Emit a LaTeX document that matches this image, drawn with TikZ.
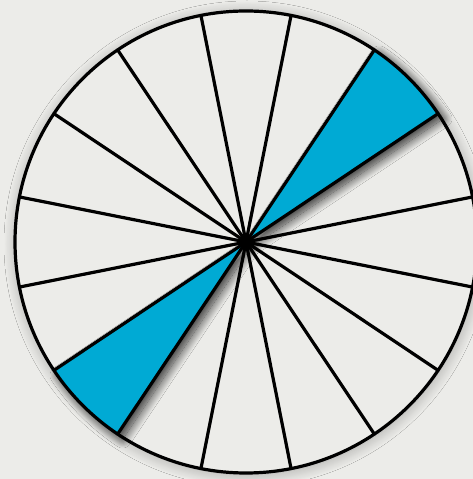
\documentclass[tikz,border=0pt]{standalone}
\usetikzlibrary{shadows.blur,calc}
\definecolor{bgc}{RGB}{236,236,233}
\definecolor{sectorblue}{RGB}{0,170,212}
\tikzset{
  spoke/.style={line width=3.2pt, line cap=round},
  rim/.style={line width=3.2pt},
  bluesector/.style={fill=sectorblue, blur shadow={shadow xshift=5pt, shadow yshift=-5pt, shadow blur steps=20, shadow blur radius=9pt, shadow opacity=80}},
}
\begin{document}
\begin{tikzpicture}[x=1pt,y=1pt]
  \fill[bgc] (0,0) rectangle (473,479);
  \useasboundingbox (0,0) rectangle (473,479);
  \clip (0,0) rectangle (473,479);
  \coordinate (c) at (246,237);
  % soft shadow of the disc
  \fill[bgc, blur shadow={shadow xshift=1pt, shadow yshift=-2pt, shadow blur steps=20, shadow blur radius=12pt, shadow opacity=30}] (c) circle[radius=231];
  % blue sectors
  \fill[bluesector] (c) -- ++(33.75:231) arc[start angle=33.75, end angle=56.25, radius=231] -- cycle;
  \fill[bluesector] (c) -- ++(213.75:231) arc[start angle=213.75, end angle=236.25, radius=231] -- cycle;
  % spokes
  \foreach \k in {0,...,7} {
    \pgfmathsetmacro{\a}{11.25+22.5*\k}
    \draw[spoke] ($(c)+(\a:231)$) -- ($(c)+(\a+180:231)$);
  }
  \fill (c) circle[radius=3.5];
  \draw[rim] (c) circle[radius=231];
\end{tikzpicture}
\end{document}
